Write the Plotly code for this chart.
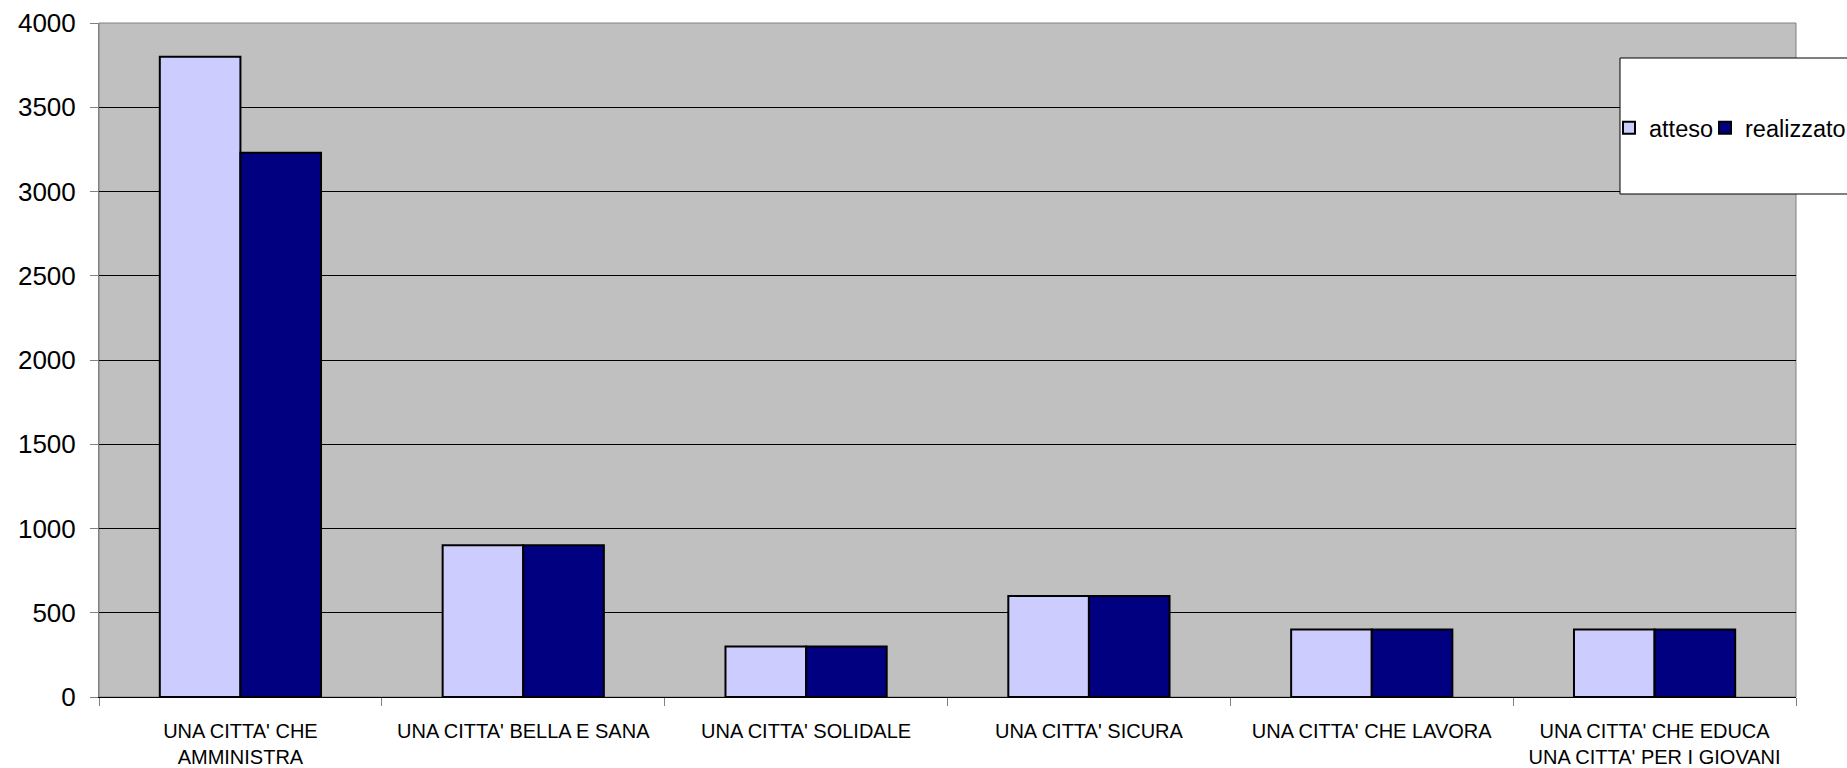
import plotly.graph_objects as go

# Categories (x axis) and the two series
categories = [
    "UNA CITTA' CHE<br>AMMINISTRA",
    "UNA CITTA' BELLA E SANA",
    "UNA CITTA' SOLIDALE",
    "UNA CITTA' SICURA",
    "UNA CITTA' CHE LAVORA",
    "UNA CITTA' CHE EDUCA<br>UNA CITTA' PER I GIOVANI",
]
atteso = [3800, 900, 300, 600, 400, 400]
realizzato = [3230, 900, 300, 600, 400, 400]

y_ticks = [0, 500, 1000, 1500, 2000, 2500, 3000, 3500, 4000]

W, H = 1847, 768
L, R, T, B = 99, 51, 23, 71
pw, ph = W - L - R, H - T - B

def px_x(x):
    return (x - L) / pw

def px_y(y):
    return (H - B - y) / ph

FONT = "Liberation Sans, Arial, sans-serif"

fig = go.Figure()
fig.add_trace(go.Bar(
    name="atteso", x=categories, y=atteso, legend="legend",
    marker=dict(color="#CCCCFF", line=dict(color="#000000", width=2)),
))
fig.add_trace(go.Bar(
    name="realizzato", x=categories, y=realizzato, legend="legend2",
    marker=dict(color="#000080", line=dict(color="#000000", width=2)),
))

# Legend box (extends past the right edge of the page)
fig.add_shape(
    type="rect", xref="paper", yref="paper",
    x0=px_x(1620), x1=px_x(1860), y0=px_y(194), y1=px_y(58),
    fillcolor="#FFFFFF", line=dict(color="#000000", width=1), layer="above",
)
# Plot area frame
fig.add_shape(
    type="rect", xref="paper", yref="paper", x0=0, x1=1, y0=0, y1=1,
    line=dict(color="#808080", width=1), layer="below",
)

legend_common = dict(
    orientation="h",
    xref="container", yref="container",
    xanchor="left", y=1 - 128 / H, yanchor="middle",
    bgcolor="rgba(0,0,0,0)", borderwidth=0,
    font=dict(family=FONT, size=23.5, color="#000000"),
    itemwidth=30,
)

fig.update_layout(
    width=W, height=H,
    margin=dict(l=L, r=R, t=T, b=B, pad=0, autoexpand=False),
    paper_bgcolor="#FFFFFF",
    plot_bgcolor="#C0C0C0",
    barmode="group", bargap=0.43, bargroupgap=0,
    font=dict(family=FONT, color="#000000"),
    showlegend=True,
    legend=dict(x=1609 / W, **legend_common),
    legend2=dict(x=1705 / W, **legend_common),
    xaxis=dict(
        type="category", tickson="boundaries",
        ticks="outside", ticklen=8, tickcolor="#808080", tickwidth=1,
        showline=True, linecolor="#000000", linewidth=1,
        showgrid=False, tickfont=dict(family=FONT, size=20),
        ticklabelstandoff=16, automargin=False,
    ),
    yaxis=dict(
        range=[0, 4000], tickvals=y_ticks,
        ticks="outside", ticklen=8, tickcolor="#808080", tickwidth=1,
        showline=True, linecolor="#808080", linewidth=1,
        showgrid=True, gridcolor="#000000", gridwidth=1,
        zeroline=False,
        tickfont=dict(family=FONT, size=26),
        ticklabelstandoff=9, automargin=False,
    ),
)

fig.write_html("out.html")
